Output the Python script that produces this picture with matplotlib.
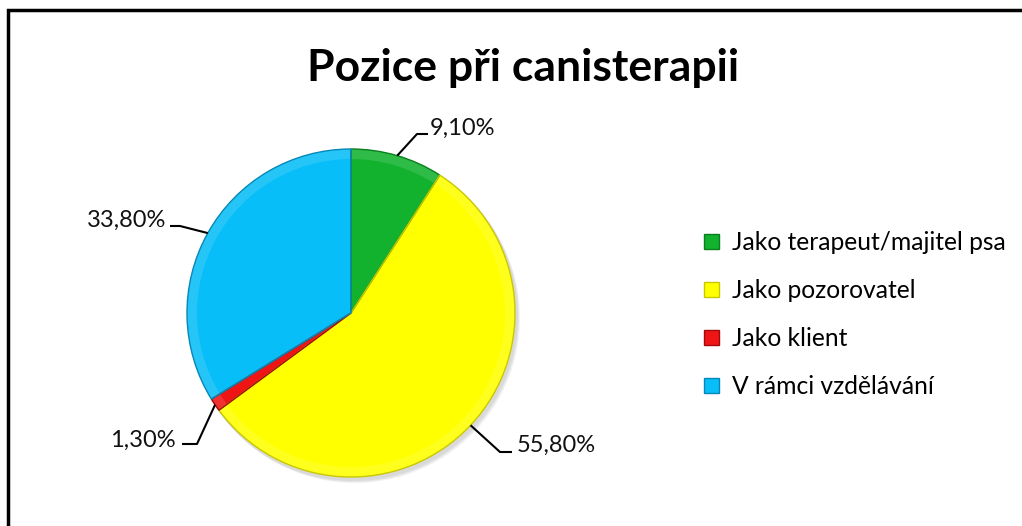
import matplotlib
matplotlib.use("Agg")
import matplotlib.pyplot as plt
from matplotlib.patches import Patch, Wedge
import numpy as np

categories = ["Jako terapeut/majitel psa", "Jako pozorovatel", "Jako klient", "V rámci vzdělávání"]
values = [9.1, 55.8, 1.3, 33.8]
labels = ["9,10%", "55,80%", "1,30%", "33,80%"]
colors = ["#12B22E", "#FFFF00", "#F01515", "#08BEF8"]
edges = ["#0B7F1E", "#C8C800", "#A00A0A", "#0588B8"]
title = "Pozice při canisterapii"

W, H = 1022, 526
FONT = ["Lato", "DejaVu Sans"]
fig = plt.figure(figsize=(W / 100, H / 100), dpi=100)
ax = fig.add_axes([0, 0, 1, 1])

cx, cy, R = 351, H - 313, 164

# soft shadow
for k in range(3):
    sh = plt.Circle((cx + 2 + k, cy - 3 - k), R + 1, color="black", alpha=0.05, lw=0, zorder=0)
    ax.add_patch(sh)

wedges, _ = ax.pie(values, colors=colors, startangle=90, counterclock=False,
                   center=(cx, cy), radius=R,
                   wedgeprops=dict(edgecolor="none", linewidth=0, zorder=1))
# bevel: lighter rim and darker outline on each wedge
for w, ec in zip(wedges, edges):
    t1, t2 = w.theta1, w.theta2
    ax.add_patch(Wedge((cx, cy), R, t1, t2, width=10, facecolor="white", alpha=0.12,
                       lw=0, zorder=2))
    ax.add_patch(Wedge((cx, cy), R, t1, t2, facecolor="none", edgecolor=ec, lw=1.0, zorder=3))

ax.set_xlim(0, W)
ax.set_ylim(0, H)
ax.axis("off")

# label anchors and leader elbows, pixel coords (y from top)
lab_pos = [(430, 128, "left"), (517, 445, "left"), (176, 440, "right"), (166, 220, "right")]
elbows = [((417, 134), (428, 134)), ((500, 452), (512, 452)), ((197, 444), (182, 444)),
          ((180, 226), (170, 226))]
for w, lab, (tx, ty, ha), (e1, e2) in zip(wedges, labels, lab_pos, elbows):
    ang = np.deg2rad((w.theta1 + w.theta2) / 2)
    px, py = cx + R * np.cos(ang), cy + R * np.sin(ang)
    ax.plot([px, e1[0], e2[0]], [py, H - e1[1], H - e2[1]], color="black", lw=1.5,
            zorder=4, solid_capstyle="butt")
    ax.text(tx, H - ty, lab, ha=ha, va="center", fontsize=17, family=FONT, color="#111111")

ax.text(523, H - 68, title, ha="center", va="center", fontsize=32, fontweight="bold",
        family=FONT, color="black")

# chart border: only left and top edges fall inside the image
ax.plot([8, 8, W + 50], [-50, H - 10, H - 10], color="black", lw=2.5, clip_on=False,
        solid_joinstyle="miter", zorder=5)

handles = [Patch(facecolor=c, edgecolor=e, linewidth=1) for c, e in zip(colors, edges)]
ax.legend(handles, categories, loc="upper left", bbox_to_anchor=(704 / W, 1 - 231 / H),
          frameon=False, prop=dict(family=FONT, size=17.7), handlelength=0.6,
          handleheight=0.6, handletextpad=0.55, labelspacing=1.02, borderaxespad=0,
          borderpad=0)

fig.savefig("out.png", dpi=100)
